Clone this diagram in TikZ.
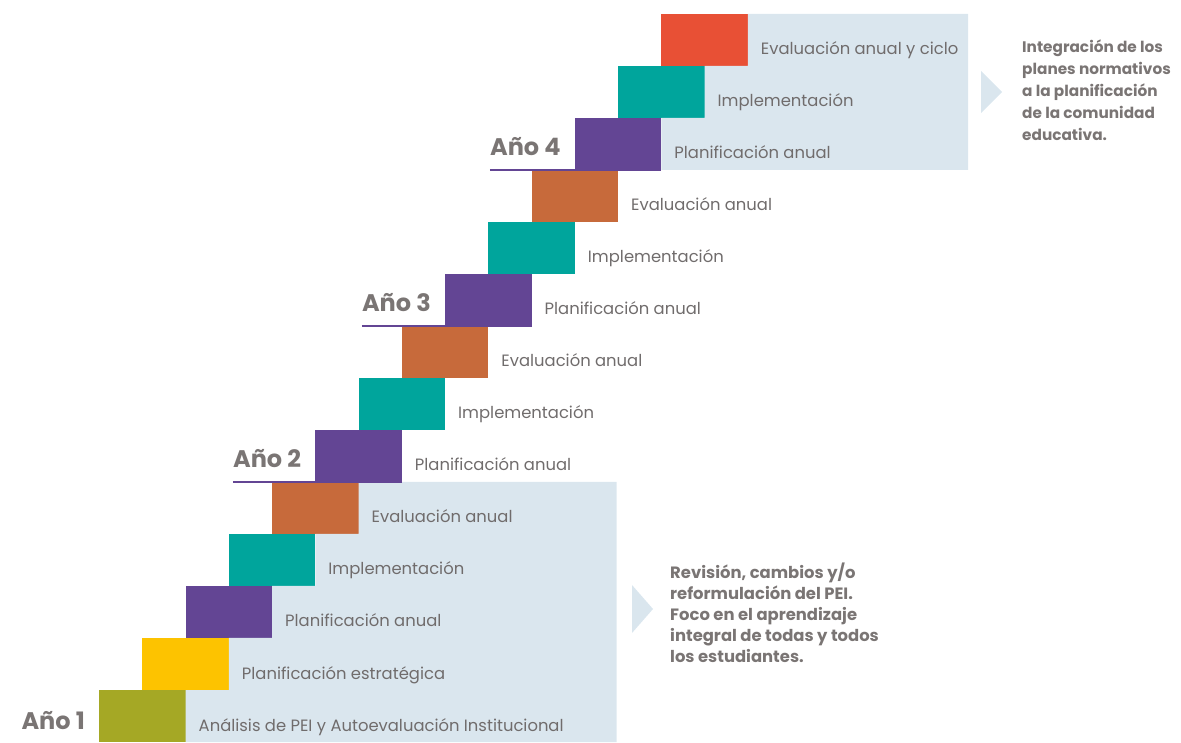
\documentclass[tikz,border=0pt]{standalone}
\usepackage{fontspec}
\setmainfont{Poppins}
\usepackage{tikz}
\usetikzlibrary{positioning,calc}
\definecolor{olivestep}{HTML}{A5A825}
\definecolor{yellowstep}{HTML}{FDC300}
\definecolor{purplestep}{HTML}{634594}
\definecolor{tealstep}{HTML}{00A59C}
\definecolor{orangestep}{HTML}{C76A3B}
\definecolor{redstep}{HTML}{E85035}
\definecolor{panelblue}{HTML}{DAE6EE}
\definecolor{labelgray}{HTML}{706C6C}
\definecolor{yeargray}{HTML}{7A7574}
\tikzset{
  stepbox/.style={minimum width=86.5pt, minimum height=52pt, inner sep=0pt, outer sep=0pt, anchor=south west},
  steplabel/.style={anchor=base west, inner sep=0pt, text=labelgray, font=\fontsize{16.4}{19}\selectfont},
  yearlabel/.style={anchor=base east, inner sep=0pt, text=yeargray, font=\fontsize{24}{28}\selectfont\bfseries},
  yearline/.style={draw=purplestep, line width=2pt},
  panel/.style={fill=panelblue},
  note/.style={anchor=west, align=left, inner sep=0pt, text=yeargray}
}
\begin{document}
\begin{tikzpicture}[x=1pt,y=1pt]
\useasboundingbox (0,0) rectangle (1181,742);
\node [stepbox, fill=olivestep] (s1) at (99,0) {};
\node [stepbox, fill=yellowstep] (s2) at (s1.north) {};
\node [stepbox, fill=purplestep] (s3) at (s2.north) {};
\node [stepbox, fill=tealstep] (s4) at (s3.north) {};
\node [stepbox, fill=orangestep] (s5) at (s4.north) {};
\node [stepbox, fill=purplestep] (s6) at (s5.north) {};
\node [stepbox, fill=tealstep] (s7) at (s6.north) {};
\node [stepbox, fill=orangestep] (s8) at (s7.north) {};
\node [stepbox, fill=purplestep] (s9) at (s8.north) {};
\node [stepbox, fill=tealstep] (s10) at (s9.north) {};
\node [stepbox, fill=orangestep] (s11) at (s10.north) {};
\node [stepbox, fill=purplestep] (s12) at (s11.north) {};
\node [stepbox, fill=tealstep] (s13) at (s12.north) {};
\node [stepbox, fill=redstep] (s14) at (s13.north) {};
\coordinate (p1) at (616.5,0);
\coordinate (p2) at (968,0);
\fill [panel] (s1.south east) -- (s1.north east) -- (s2.south east) -- (s2.north east) -- (s3.south east) -- (s3.north east) -- (s4.south east) -- (s4.north east) -- (s5.south east) -- (s5.north east) -- (s5.north -| p1) -- (s1.south -| p1) -- cycle;
\fill [panel] (s12.south east) -- (s12.north east) -- (s13.south east) -- (s13.north east) -- (s14.south east) -- (s14.north east) -- (s14.north -| p2) -- (s12.south -| p2) -- cycle;
\fill [panel] (632,157) -- (653,133) -- (632,109) -- cycle;
\fill [panel] (981,671) -- (1002,650) -- (981,629) -- cycle;
\node [steplabel] (l1) at ([xshift=13pt,yshift=11pt]s1.south east) {Análisis de PEI y Autoevaluación Institucional};
\node [steplabel] (l2) at ([xshift=13pt,yshift=11pt]s2.south east) {Planificación estratégica};
\node [steplabel] (l3) at ([xshift=13pt,yshift=11pt]s3.south east) {Planificación anual};
\node [steplabel] (l4) at ([xshift=13pt,yshift=11pt]s4.south east) {Implementación};
\node [steplabel] (l5) at ([xshift=13pt,yshift=11pt]s5.south east) {Evaluación anual};
\node [steplabel] (l6) at ([xshift=13pt,yshift=11pt]s6.south east) {Planificación anual};
\node [steplabel] (l7) at ([xshift=13pt,yshift=11pt]s7.south east) {Implementación};
\node [steplabel] (l8) at ([xshift=13pt,yshift=11pt]s8.south east) {Evaluación anual};
\node [steplabel] (l9) at ([xshift=13pt,yshift=11pt]s9.south east) {Planificación anual};
\node [steplabel] (l10) at ([xshift=13pt,yshift=11pt]s10.south east) {Implementación};
\node [steplabel] (l11) at ([xshift=13pt,yshift=11pt]s11.south east) {Evaluación anual};
\node [steplabel] (l12) at ([xshift=13pt,yshift=11pt]s12.south east) {Planificación anual};
\node [steplabel] (l13) at ([xshift=13pt,yshift=11pt]s13.south east) {Implementación};
\node [steplabel] (l14) at ([xshift=13pt,yshift=11pt]s14.south east) {Evaluación anual y ciclo};
\node [yearlabel] (a1) at ([xshift=-14pt,yshift=13pt]s1.south west) {Año 1};
\node [yearlabel] (a2) at ([xshift=-14pt,yshift=14pt]s6.south west) {Año 2};
\node [yearlabel] (a3) at ([xshift=-14pt,yshift=14pt]s9.south west) {Año 3};
\node [yearlabel] (a4) at ([xshift=-14pt,yshift=14pt]s12.south west) {Año 4};
\draw [yearline] (a2.west |- s6.south) -- (s6.south east);
\draw [yearline] (a3.west |- s9.south) -- (s9.south east);
\draw [yearline] (a4.west |- s12.south) -- (s12.south east);
\node [note, font=\fontsize{16.4}{21}\selectfont\bfseries] (n1) at (670,129) {Revisión, cambios y/o\\reformulación del PEI.\\Foco en el aprendizaje\\integral de todas y todos\\los estudiantes.};
\node [note, font=\fontsize{15.3}{22}\selectfont\bfseries] (n2) at (1022,652) {Integración de los\\planes normativos\\a la planificación\\de la comunidad\\educativa.};
\end{tikzpicture}
\end{document}
